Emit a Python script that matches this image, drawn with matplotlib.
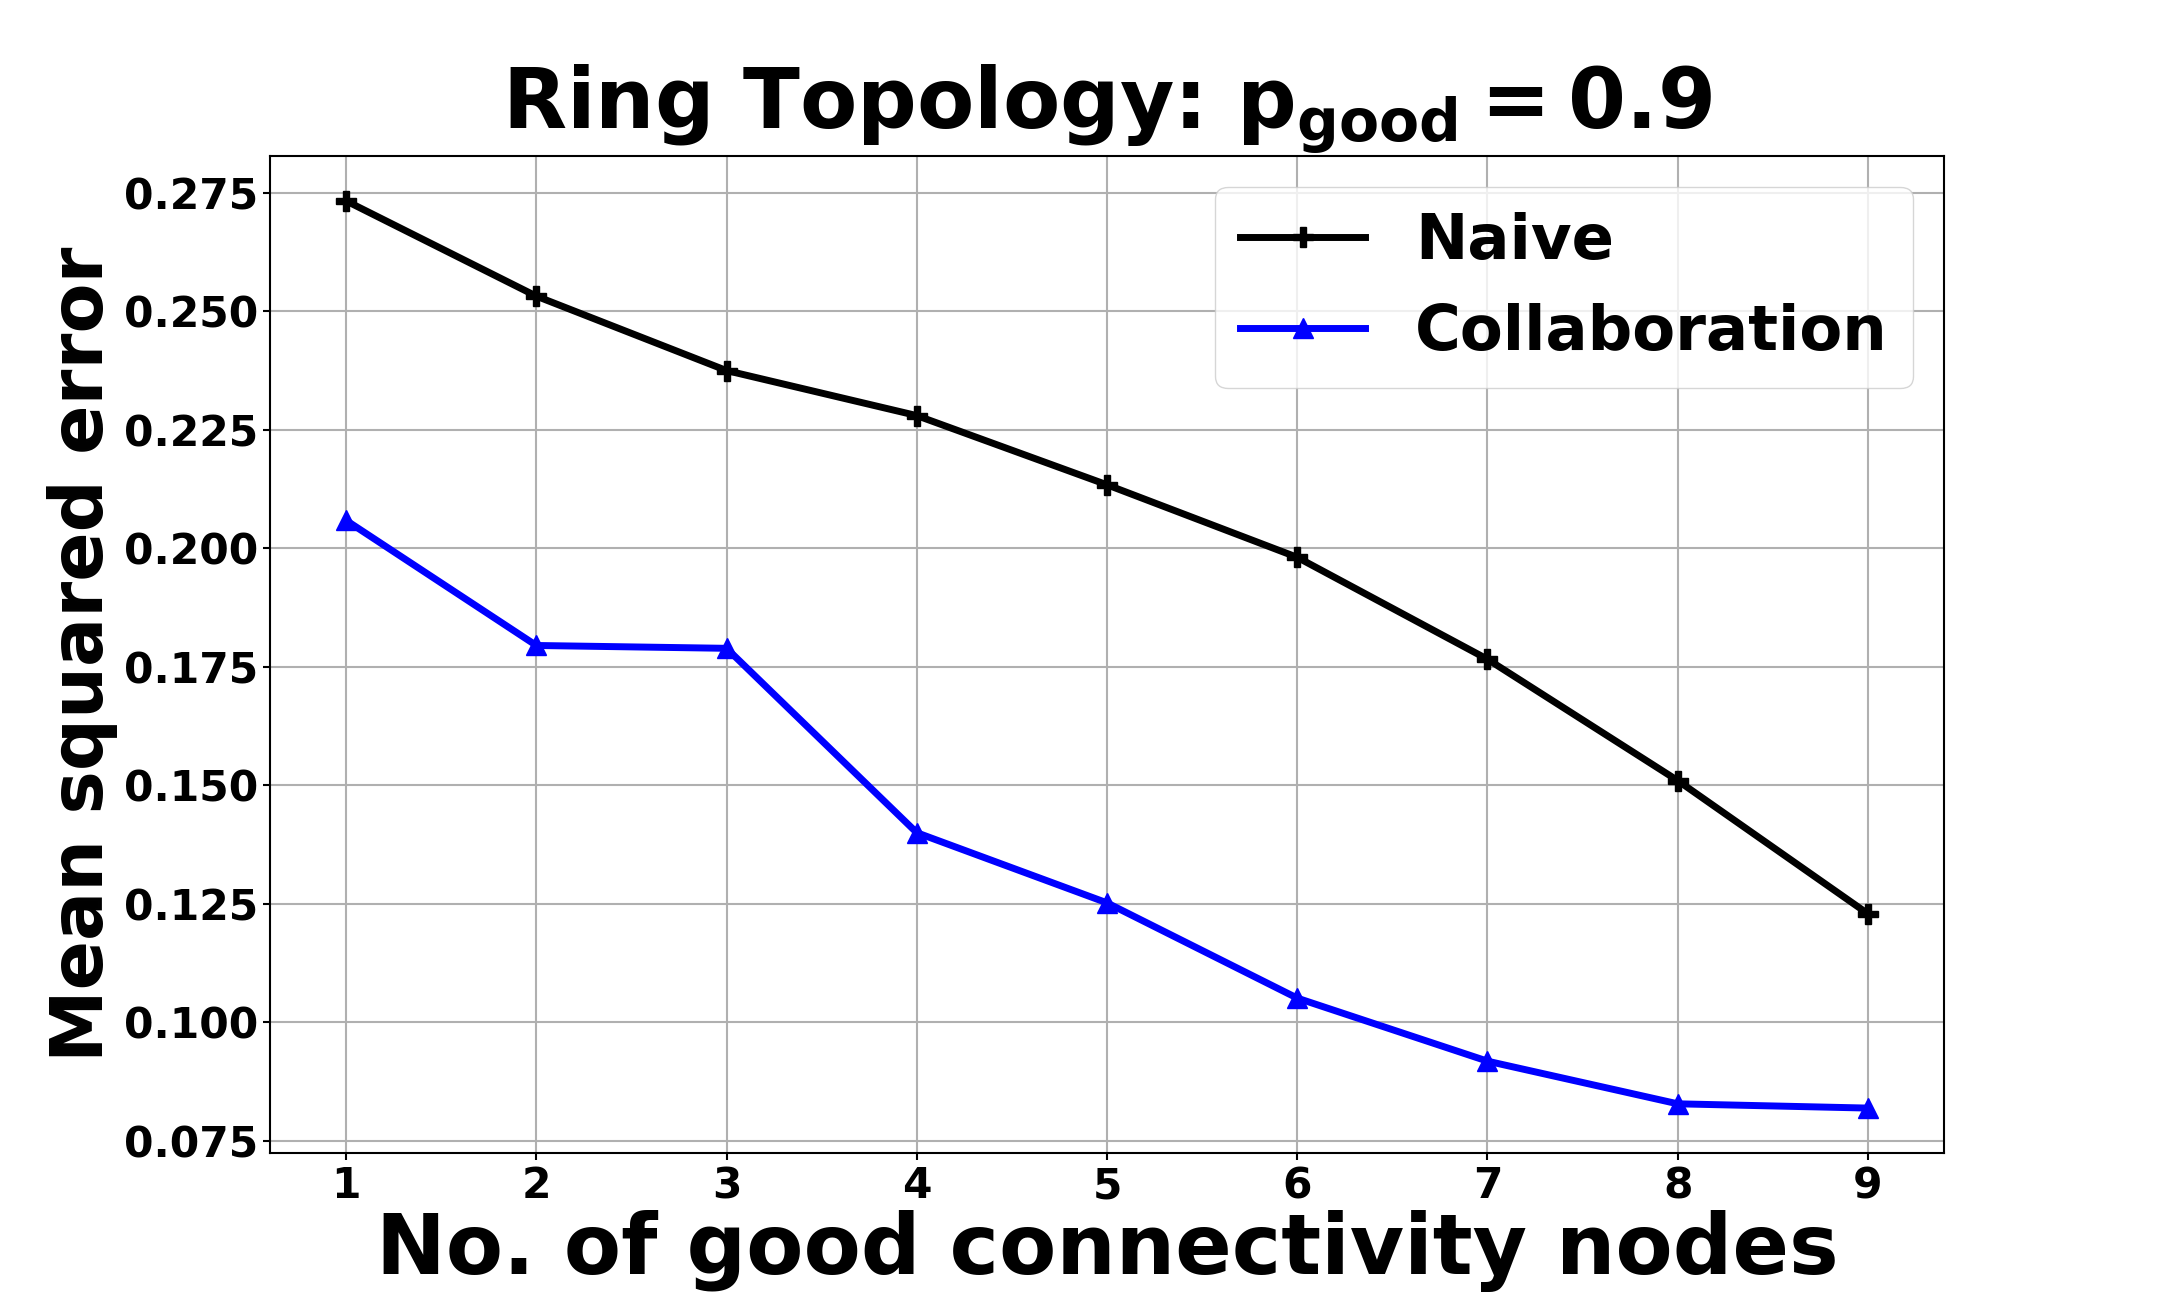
import matplotlib
matplotlib.use('Agg')
import matplotlib.pyplot as plt

# No. of good connectivity nodes
nodes = [1, 2, 3, 4, 5, 6, 7, 8, 9]
naive = [0.2733, 0.2532, 0.2375, 0.2280, 0.2134, 0.1981, 0.1766, 0.1510, 0.1229]
collab = [0.2059, 0.1795, 0.1789, 0.1400, 0.1252, 0.1051, 0.0918, 0.0828, 0.0819]

plt.rcParams['font.family'] = ['DejaVu Sans']
plt.rcParams['font.weight'] = 'bold'
plt.rcParams['mathtext.fontset'] = 'dejavusans'

fig, ax = plt.subplots(figsize=(21.6, 12.96), dpi=100)
fig.subplots_adjust(left=0.125, right=0.9, top=0.88, bottom=0.11)

ax.plot(nodes, naive, color='black', marker='P', markersize=14, linewidth=5.0, label='Naive')
ax.plot(nodes, collab, color='blue', marker='^', markersize=14, linewidth=5.0, label='Collaboration')

ax.set_title(r'Ring Topology: $\mathbf{p_{good}=0.9}$', fontsize=60, fontweight='bold')
ax.set_xlabel('No. of good connectivity nodes', fontsize=60, fontweight='bold', labelpad=2)
ax.set_ylabel('Mean squared error', fontsize=52.5, fontweight='bold')
ax.set_xticks(nodes)
ax.tick_params(axis='both', labelsize=30.5, length=5, width=1.5)
for s in ax.spines.values():
    s.set_linewidth(1.5)
ax.grid(True, color='#b0b0b0', linewidth=1.5)
ax.legend(loc='upper right', fontsize=45, handlelength=2.0)

fig.savefig('out.png', dpi=100)
